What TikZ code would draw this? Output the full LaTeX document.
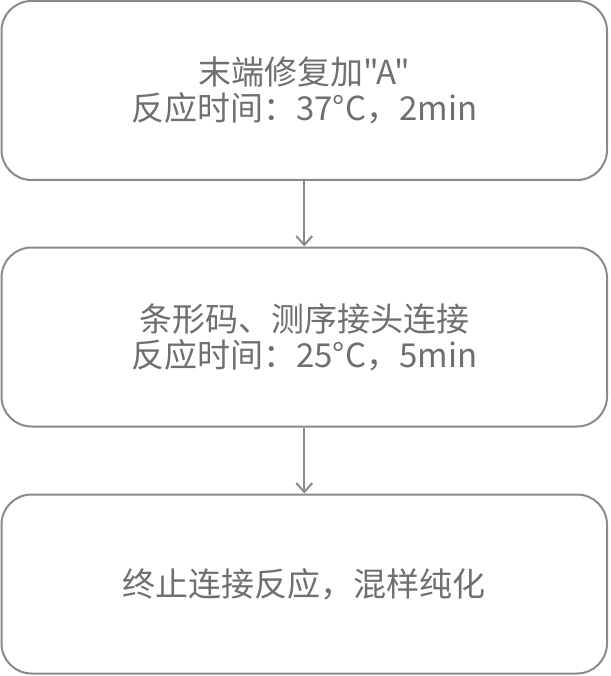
\documentclass[tikz,border=0pt]{standalone}
\usepackage{fontspec}
\newfontfamily\cjkfont{Noto Sans CJK SC}
\usetikzlibrary{arrows.meta}
\definecolor{linegray}{HTML}{8A8A8A}
\definecolor{textgray}{HTML}{6F6F6F}
\begin{document}
\begin{tikzpicture}[x=1pt,y=-1pt,
  stepbox/.style={draw=linegray,line width=2pt,rounded corners=30pt,minimum width=605.5pt,minimum height=179pt,align=center,text=textgray,font=\cjkfont\fontsize{33}{36}\selectfont,inner sep=0pt},
  conn/.style={draw=linegray,line width=2pt,-{Straight Barb[length=9pt,width=16pt,line width=2pt]}}]
\useasboundingbox (0,0) rectangle (610,676);
\node[stepbox] (b1) at (304.25,90.5) {末端修复加"A"\\反应时间：37°C，2min};
\node[stepbox] (b2) at (304.25,337) {条形码、测序接头连接\\反应时间：25°C，5min};
\node[stepbox] (b3) at (304.25,584) {终止连接反应，混样纯化};
\draw[conn] (b1.south) -- (b2.north);
\draw[conn] (b2.south) -- (b3.north);
\end{tikzpicture}
\end{document}
